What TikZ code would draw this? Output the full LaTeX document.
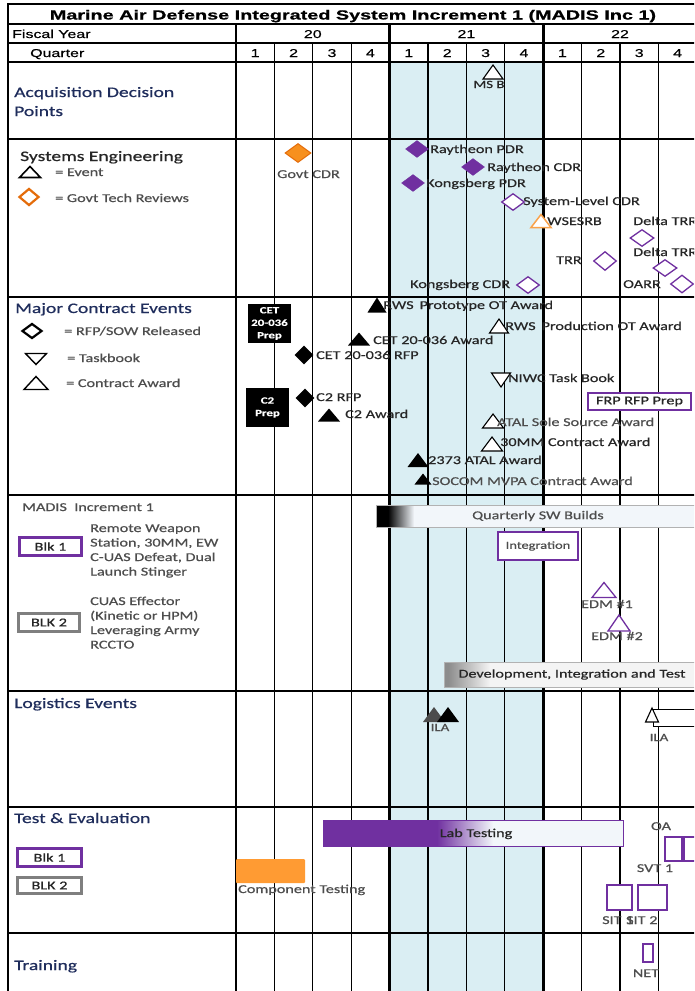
\documentclass[tikz,border=0pt]{standalone}
\usepackage{fontspec}
\setmainfont{Carlito}[FakeStretch=1.35,FakeBold=0.6]
\newfontfamily\hdrf{Liberation Sans}[FakeStretch=1.4,FakeBold=0.5]
\newfontfamily\ttlf{Liberation Sans}[FakeStretch=1.5,FakeBold=0.8]
\usetikzlibrary{shapes.geometric}
\definecolor{navy}{HTML}{1F2D5C}
\definecolor{pur}{HTML}{7030A0}
\definecolor{orgfill}{HTML}{F7901E}
\definecolor{orgline}{HTML}{E46C0A}
\definecolor{orglt}{HTML}{F9A24B}
\definecolor{orgbar}{HTML}{FF9B33}
\definecolor{ltblue}{HTML}{DAEEF3}
\definecolor{barlt}{HTML}{F2F6FA}
\definecolor{lblc}{HTML}{262626}
\definecolor{grc}{HTML}{4D4D4D}
\definecolor{blkgray}{HTML}{7F7F7F}
\definecolor{devgray}{HTML}{8C8C8C}
\definecolor{devlt}{HTML}{F4F4F4}
\newcommand\mytup[6]{\coordinate (#1) at (#2,#3);
  \path[#6] ([shift={(-#4,#5)}]#1) -- ([shift={(#4,#5)}]#1) -- ([shift={(0,-#5)}]#1) -- cycle;}
\newcommand\mytdown[6]{\coordinate (#1) at (#2,#3);
  \path[#6] ([shift={(-#4,-#5)}]#1) -- ([shift={(#4,-#5)}]#1) -- ([shift={(0,#5)}]#1) -- cycle;}
\begin{document}
\begin{tikzpicture}[x=1pt,y=-1pt,
  txt/.style={anchor=base west, inner sep=0pt, font=\fontsize{12}{14}\selectfont, text=lblc},
  txtc/.style={txt, anchor=base},
  gtxt/.style={txt, text=grc},
  head/.style={anchor=base west, inner sep=0pt, font=\fontsize{14.5}{17}\selectfont, text=navy},
  hdr/.style={anchor=base, inner sep=0pt, font=\hdrf\fontsize{11.4}{13}\selectfont},
  dmd/.style={diamond, inner sep=0pt, minimum width=23pt, minimum height=17pt},
  pdmd/.style={dmd, fill=pur, draw=pur},
  wdmd/.style={dmd, fill=white, draw=pur, line width=1.3pt},
  bdmd/.style={dmd, fill=black, minimum width=19pt, minimum height=19pt},
  btri/.style={fill=black},
  wtri/.style={fill=white, draw=black, line width=1.1pt},
  ptri/.style={fill=white, draw=pur, line width=1.3pt},
  pbox/.style={draw=pur, line width=1.2pt, fill=white, inner sep=0pt},
  legbox/.style={draw=pur, line width=3pt, fill=white, inner sep=0pt, font=\fontsize{12}{14}\selectfont, text=lblc},
  blackbox/.style={fill=black, text=white, inner sep=0pt, align=center, font=\bfseries\fontsize{9.5}{12.5}\selectfont},
  thickl/.style={line width=2.6pt},
  thinl/.style={line width=1.3pt}
]
\useasboundingbox (0,0) rectangle (694,991);
\clip (0,0) rectangle (694,991);
\fill[white] (0,0) rectangle (694,991);
% FY21 shading
\fill[ltblue] (389.6,62) rectangle (543.2,991);
% grid
\foreach \k in {1,2,3,5,6,7,9,10,11} \draw[thinl] ({236+38.4*\k},43) -- ({236+38.4*\k},991);
\foreach \xx in {236,389.6,543.2} \draw[thickl] (\xx,24) -- (\xx,991);
\draw[thickl] (8,3) -- (8,991);
\draw[line width=2pt] (8,4) -- (700,4);
\draw[line width=2pt] (8,24) -- (700,24);
\draw[line width=2pt] (8,43) -- (700,43);
\foreach \yy in {62,139,297,495,691,807,933} \draw[thickl] (8,\yy) -- (700,\yy);
% header
\node[anchor=base, inner sep=0pt, font=\ttlf\bfseries\fontsize{13.2}{15}\selectfont] (title) at (353,19.5) {Marine Air Defense Integrated System Increment 1 (MADIS Inc 1)};
\node[hdr, anchor=base west] (fy) at (12,38) {Fiscal Year};
\node[hdr, anchor=base west] (qtr) at (30,57) {Quarter};
\node[hdr] (fy20) at (312.8,38) {20};
\node[hdr] (fy21) at (466.4,38) {21};
\node[hdr] (fy22) at (620,38) {22};
\foreach \q/\k in {1/0,2/1,3/2,4/3,1/4,2/5,3/6,4/7,1/8,2/9,3/10,4/11}
  \node[hdr] (q\k) at ({255.2+38.4*\k},57) {\q};
% ---------- Acquisition Decision Points
\node[head] (adp1) at (14,97) {Acquisition Decision};
\node[head] (adp2) at (14,116) {Points};
\mytup{msb}{493}{72}{10}{7}{wtri}
\node[txtc, font=\fontsize{11}{13}\selectfont] (msbl) at (489,88) {MS B};
% ---------- Systems Engineering
\node[head, text=lblc] (seh) at (20,161) {Systems Engineering};
\mytup{legev}{30}{172}{10.5}{5.5}{wtri, line width=1.6pt}
\node[gtxt] (legevl) at (55,176) {= Event};
\node[dmd, draw=orgline, line width=2.2pt, fill=white, minimum width=20pt, minimum height=17pt] (legtr) at (29,197) {};
\node[gtxt] (legtrl) at (55,202) {= Govt Tech Reviews};
\node[dmd, fill=orgfill, draw=orgline, line width=1pt, minimum width=26pt, minimum height=19pt] (gcdr) at (298,153) {};
\node[gtxt] (gcdrl) at (277,178) {Govt CDR};
\node[pdmd] (rpdr) at (417,149) {};
\node[txt] (rpdrl) at (430,153) {Raytheon PDR};
\node[pdmd] (rcdr) at (473,167) {};
\node[txt] (rcdrl) at (487,171) {Raytheon CDR};
\node[pdmd] (kpdr) at (413,183) {};
\node[txt] (kpdrl) at (426,187) {Kongsberg PDR};
\node[wdmd] (slcdr) at (513,202) {};
\node[txt] (slcdrl) at (523,205) {System-Level CDR};
\mytup{wsesrb}{541}{221}{10}{6.5}{fill=white, draw=orglt, line width=1.5pt}
\node[txt] (wsesrbl) at (547,225) {WSESRB};
\node[txt] (dtrr1l) at (633,225) {Delta TRR};
\node[wdmd, minimum width=24pt] (dtrr1) at (642,238) {};
\node[txt] (dtrr2l) at (633,256) {Delta TRR};
\node[wdmd, minimum width=24pt] (dtrr2) at (665,268) {};
\node[txt] (trrl) at (556,264) {TRR};
\node[wdmd, minimum height=19pt] (trr) at (605,261) {};
\node[txt] (oarrl) at (623,288) {OARR};
\node[wdmd, minimum height=18pt] (oarr) at (682,284) {};
\node[txt] (kcdrl) at (410,288) {Kongsberg CDR};
\node[wdmd] (kcdr) at (528,285) {};
% ---------- Major Contract Events
\node[head] (mceh) at (15,313) {Major Contract Events};
\node[dmd, draw=black, line width=2.2pt, fill=white, minimum width=20pt, minimum height=15pt] (legrfp) at (32,331) {};
\node[gtxt] (legrfpl) at (64,335) {= RFP/SOW Released};
\mytdown{legtb}{36}{359}{10.5}{5.5}{wtri, line width=1.4pt}
\node[gtxt] (legtbl) at (67,362) {= Taskbook};
\mytup{legca}{36}{383}{12}{6.5}{wtri, line width=1.4pt}
\node[gtxt] (legcal) at (66,387) {= Contract Award};
\node[blackbox, minimum width=43pt, minimum height=39pt] (cetprep) at (269.5,323.5) {CET\\20-036\\Prep};
\node[blackbox, minimum width=43pt, minimum height=39pt] (c2prep) at (267.5,407.5) {C2\\Prep};
\mytup{rwsp}{377}{305}{9.5}{7.5}{btri}
\node[txt] (rwspl) at (383,309) {RWS\enspace Prototype OT Award};
\mytup{ceta}{359}{339}{11}{6.5}{btri}
\node[txt] (cetal) at (373,344) {CET 20-036 Award};
\node[bdmd] (cetrfp) at (304,355) {};
\node[txt] (cetrfpl) at (316,359) {CET 20-036 RFP};
\node[bdmd] (c2rfp) at (305,398) {};
\node[txt] (c2rfpl) at (316,401) {C2 RFP};
\mytup{c2a}{329}{415}{11}{6.5}{btri}
\node[txt] (c2al) at (345,418) {C2 Award};
\mytup{rwspr}{499}{326}{9.5}{7}{wtri}
\node[txt] (rwsprl) at (505,330) {RWS\enspace Production OT Award};
\mytdown{niwc}{501}{380}{9.5}{7}{wtri}
\node[txt] (niwcl) at (508,382) {NIWC Task Book};
\node[pbox, minimum width=103pt, minimum height=17pt, font=\fontsize{12}{14}\selectfont, text=lblc] (frp) at (639.5,401.5) {FRP RFP Prep};
\mytup{atals}{493}{421}{10.5}{7}{wtri}
\node[gtxt] (atalsl) at (497,426) {ATAL Sole Source Award};
\mytup{mm30}{492}{444}{10.5}{7}{wtri}
\node[txt] (mm30l) at (500,446) {30MM Contract Award};
\mytup{atal}{418}{460}{10.5}{7}{btri}
\node[txt] (atall) at (428,464) {2373 ATAL Award};
\mytup{socom}{423}{479}{8.5}{5.5}{btri}
\node[gtxt] (socoml) at (432,485) {SOCOM MVPA Contract Award};
% ---------- MADIS Increment 1
\node[gtxt] (madish) at (22,511) {MADIS\ \ Increment 1};
\node[legbox, minimum width=62pt, minimum height=18pt] (blk1a) at (50.5,546.5) {Blk 1};
\node[gtxt] (b1t1) at (90,532) {Remote Weapon};
\node[gtxt] (b1t2) at (90,546.5) {Station, 30MM, EW};
\node[gtxt] (b1t3) at (90,561) {C-UAS Defeat, Dual};
\node[gtxt] (b1t4) at (90,575.5) {Launch Stinger};
\node[legbox, draw=blkgray, minimum width=61pt, minimum height=18pt] (blk2a) at (49,622.5) {BLK 2};
\node[gtxt] (b2t1) at (90,605) {CUAS Effector};
\node[gtxt] (b2t2) at (90,619.5) {(Kinetic or HPM)};
\node[gtxt] (b2t3) at (90,634) {Leveraging Army};
\node[gtxt] (b2t4) at (90,648.5) {RCCTO};
\node[draw=gray!60, line width=0.8pt, fill=barlt, minimum width=324pt, minimum height=22pt, inner sep=0pt,
  font=\fontsize{12}{14}\selectfont, text=grc,
  path picture={\fill[black] (path picture bounding box.north west) rectangle ([xshift=12pt]path picture bounding box.south west);
    \shade[left color=black, right color=barlt] ([xshift=12pt]path picture bounding box.north west) rectangle ([xshift=38pt]path picture bounding box.south west);}] (swb) at (538,516) {Quarterly SW Builds};
\node[pbox, minimum width=80pt, minimum height=28pt, font=\fontsize{10.7}{13}\selectfont, text=grc] (integ) at (538,546) {Integration};
\mytup{edm1}{604}{590}{12}{7.5}{ptri}
\node[txtc, text=grc] (edm1l) at (607,608) {EDM \#1};
\mytup{edm2}{619}{623}{11}{8}{ptri}
\node[txtc, text=grc] (edm2l) at (617,640) {EDM \#2};
\node[draw=gray!60, line width=0.8pt, fill=devlt, minimum width=256pt, minimum height=25pt, inner sep=0pt,
  font=\fontsize{12}{14}\selectfont, text=lblc,
  path picture={\fill[devgray] (path picture bounding box.north west) rectangle ([xshift=4pt]path picture bounding box.south west);
    \shade[left color=devgray, right color=devlt] ([xshift=4pt]path picture bounding box.north west) rectangle ([xshift=46pt]path picture bounding box.south west);}] (dev) at (572,674.5) {Development, Integration and Test};
% ---------- Logistics Events
\node[head] (logh) at (14,708) {Logistics Events};
\mytup{ila1}{434}{714.5}{11}{7.5}{fill=black!70}
\mytup{ila2}{448}{714.5}{11}{7.5}{fill=black}
\node[txtc, text=grc, font=\fontsize{11}{13}\selectfont] (ila1l) at (440,731) {ILA};
\node[draw=black, line width=1pt, fill=white, minimum width=47pt, minimum height=17pt, inner sep=0pt] (ilabox) at (676.5,717.5) {};
\mytup{ila3}{652}{715}{6.5}{7}{wtri}
\node[txtc, text=grc, font=\fontsize{11}{13}\selectfont] (ila3l) at (659,741) {ILA};
% ---------- Test & Evaluation
\node[head] (teh) at (14,823) {Test \& Evaluation};
\node[legbox, minimum width=64pt, minimum height=18pt] (blk1b) at (49.5,857.5) {Blk 1};
\node[legbox, draw=blkgray, minimum width=64pt, minimum height=16pt] (blk2b) at (49.5,885.5) {BLK 2};
\node[fill=orgbar, minimum width=69pt, minimum height=24pt, inner sep=0pt, rounded corners=1pt] (comp) at (270.5,871) {};
\node[gtxt] (compl) at (238,893) {Component Testing};
\node[draw=pur, line width=1pt, fill=barlt, minimum width=300pt, minimum height=26pt, inner sep=0pt,
  font=\fontsize{12}{14}\selectfont, text=lblc,
  path picture={\fill[pur] (path picture bounding box.north west) rectangle ([xshift=114pt]path picture bounding box.south west);
    \shade[left color=pur, right color=barlt] ([xshift=114pt]path picture bounding box.north west) rectangle ([xshift=170pt]path picture bounding box.south west);}] (lab) at (473,833) {};
\node[txtc] (labl) at (476,837) {Lab Testing};
\node[txtc, text=grc] (oal) at (661,830) {OA};
\node[pbox, minimum width=17pt, minimum height=24pt] (oa1) at (673.5,849) {};
\node[pbox, minimum width=16pt, minimum height=24pt] (oa2) at (692,849) {};
\node[txtc, text=grc] (svtl) at (655,872) {SVT 1};
\node[pbox, minimum width=25pt, minimum height=25pt] (sit1) at (619.5,897.5) {};
\node[pbox, minimum width=29pt, minimum height=25pt] (sit2) at (652.5,897.5) {};
\node[gtxt] (sit1l) at (602,924) {SIT 1};
\node[gtxt] (sit2l) at (626,924) {SIT 2};
% ---------- Training
\node[head] (trh) at (14,970) {Training};
\node[pbox, minimum width=10pt, minimum height=18pt] (net) at (648,953) {};
\node[txtc, text=grc] (netl) at (646,977) {NET};
\end{tikzpicture}
\end{document}
